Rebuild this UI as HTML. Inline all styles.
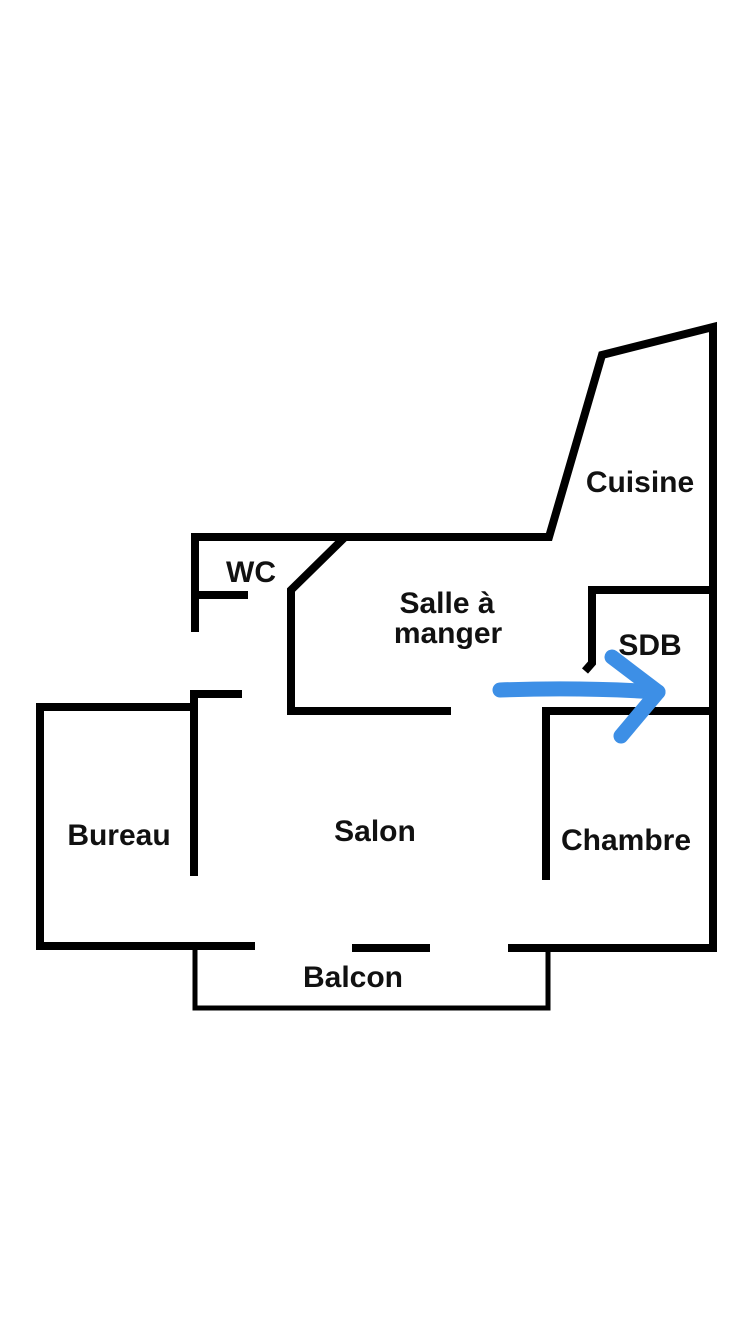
<!DOCTYPE html>
<html><head><style>
html,body{margin:0;padding:0;background:#fff;}
svg{display:block;}
text{font-family:"Liberation Sans","DejaVu Sans",sans-serif;font-weight:bold;font-size:30px;fill:#111;text-anchor:middle;}
</style></head><body>
<svg width="750" height="1334" viewBox="0 0 750 1334">
<rect width="750" height="1334" fill="#fff"/>
<g stroke="#000" stroke-width="8" fill="none" stroke-linejoin="miter" stroke-linecap="butt">
<polyline points="195,632 195,537 549,537 602,355 713,327 713,948 508,948"/>
<polyline points="255,946 40,946 40,707 192,707"/>
<polyline points="242,694 194,694 194,876"/>
<line x1="195" y1="595" x2="248" y2="595"/>
<polyline points="345,537 291,590 291,711 451,711"/>
<polyline points="713,590 592,590 592,663 585,671"/>
<polyline points="713,711 546,711 546,880"/>
<line x1="352" y1="948" x2="430" y2="948"/>
<polyline points="195,948 195,1008 548,1008 548,948" stroke-width="5"/>
</g>
<text x="640" y="492">Cuisine</text>
<text x="251" y="582">WC</text>
<text x="447" y="613">Salle à</text>
<text x="448" y="643">manger</text>
<text x="650" y="655">SDB</text>
<text x="119" y="845">Bureau</text>
<text x="375" y="841">Salon</text>
<text x="626" y="850">Chambre</text>
<text x="353" y="987">Balcon</text>
<g stroke="#3d8fe6" stroke-width="15" fill="none" stroke-linecap="round" stroke-linejoin="round">
<path d="M500,690 Q580,687 658,692"/>
<polyline points="612,657 658,692 621,736"/>
</g>
</svg>
</body></html>
